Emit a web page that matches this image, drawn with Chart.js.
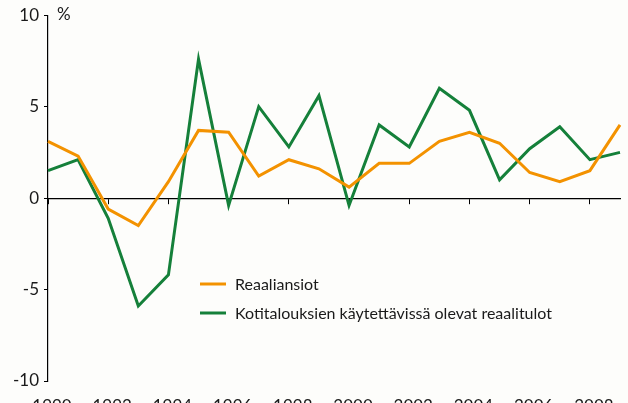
<!DOCTYPE html>
<html>
<head>
<meta charset="utf-8">
<script src="https://cdn.jsdelivr.net/npm/chart.js@4.4.1/dist/chart.umd.min.js"></script>
<style>
  html, body { margin: 0; padding: 0; background: #fdfdfb; overflow: hidden; }
  #wrap { width: 628px; height: 403px; overflow: hidden; }
  canvas { display: block; background: #fdfdfb; }
</style>
</head>
<body>
<div id="wrap"><canvas id="incomeChart" width="628" height="403"></canvas></div>
<script>
// Chart data
const years = ['1990', '1991', '1992', '1993', '1994', '1995', '1996', '1997', '1998', '1999',
               '2000', '2001', '2002', '2003', '2004', '2005', '2006', '2007', '2008', '2009'];
const realEarnings = [3.1, 2.3, -0.6, -1.5, 0.9, 3.7, 3.6, 1.2, 2.1, 1.6,
                      0.6, 1.9, 1.9, 3.1, 3.6, 3.0, 1.4, 0.9, 1.5, 4.0];
const disposableIncome = [1.5, 2.1, -1.1, -5.9, -4.2, 7.6, -0.4, 5.0, 2.8, 5.6,
                          -0.4, 4.0, 2.8, 6.0, 4.8, 1.0, 2.7, 3.9, 2.1, 2.5];
const yTickValues = [-10, -5, 0, 5, 10];
const shownYears = ['1990', '1992', '1994', '1996', '1998', '2000', '2002', '2004', '2006', '2008'];
const seriesNames = ['Reaaliansiot', 'Kotitalouksien käytettävissä olevat reaalitulot'];
const unitLabel = '%';

const FONT = 'Lato, "Open Sans", sans-serif';
const TEXT = '#1a1a1a';

// legend and unit label drawn at fixed spots inside the plot
const extras = {
    id: 'extras',
    afterDraw(chart) {
        const c = chart.ctx;
        c.save();
        c.font = '17px ' + FONT;
        c.fillStyle = TEXT;
        c.textBaseline = 'middle';
        c.textAlign = 'left';
        c.fillText(unitLabel, 57, 15);

        c.font = '16px ' + FONT;
        const rows = [284, 313];
        chart.data.datasets.forEach((ds, i) => {
            const y = rows[i];
            c.strokeStyle = ds.borderColor;
            c.lineWidth = 3;
            c.beginPath();
            c.moveTo(200, y);
            c.lineTo(226, y);
            c.stroke();
            c.fillText(ds.label, 235, y + 1);
        });
        c.restore();
    }
};

const ctx = document.getElementById('incomeChart').getContext('2d');
new Chart(ctx, {
    type: 'line',
    data: {
        labels: years,
        datasets: [
            {
                label: seriesNames[0],
                data: realEarnings,
                borderColor: '#f39200',
                borderWidth: 3,
                pointRadius: 0,
                tension: 0
            },
            {
                label: seriesNames[1],
                data: disposableIncome,
                borderColor: '#15803a',
                borderWidth: 3,
                pointRadius: 0,
                tension: 0
            }
        ]
    },
    options: {
        responsive: false,
        animation: false,
        devicePixelRatio: 1,
        layout: { padding: { top: 15, right: 8, bottom: 0, left: 0 } },
        plugins: {
            legend: { display: false },
            tooltip: { enabled: false }
        },
        scales: {
            x: {
                type: 'category',
                position: 'bottom',
                offset: false,
                border: { display: false },
                // ticks hidden but their length pushes the labels down
                grid: { display: false, drawTicks: true, tickLength: 9 },
                ticks: {
                    autoSkip: false,
                    maxRotation: 0,
                    padding: 6,
                    labelOffset: 4,
                    color: TEXT,
                    font: { family: FONT, size: 17 },
                    callback: function (value, index) {
                        const y = years[index];
                        return shownYears.includes(y) ? y : '';
                    }
                },
                afterFit: scale => { scale.height = 22; }
            },
            x2: {
                type: 'category',
                position: { y: 0 },
                offset: false,
                border: { display: true, color: '#000', width: 1.2 },
                grid: {
                    drawOnChartArea: false,
                    drawTicks: true,
                    tickLength: 5,
                    color: c => (years[c.index] && shownYears.includes(years[c.index])) ? '#000' : 'rgba(0,0,0,0)'
                },
                ticks: { display: false }
            },
            y: {
                min: -10,
                max: 10,
                border: { display: true, color: '#000', width: 1.2 },
                grid: { drawOnChartArea: false, tickLength: 4, color: '#000' },
                afterBuildTicks: scale => { scale.ticks = yTickValues.map(v => ({ value: v })); },
                ticks: {
                    padding: 5,
                    color: TEXT,
                    font: { family: FONT, size: 17 }
                },
                afterFit: scale => { scale.width = 48; }
            }
        }
    },
    plugins: [extras]
});
</script>
</body>
</html>
